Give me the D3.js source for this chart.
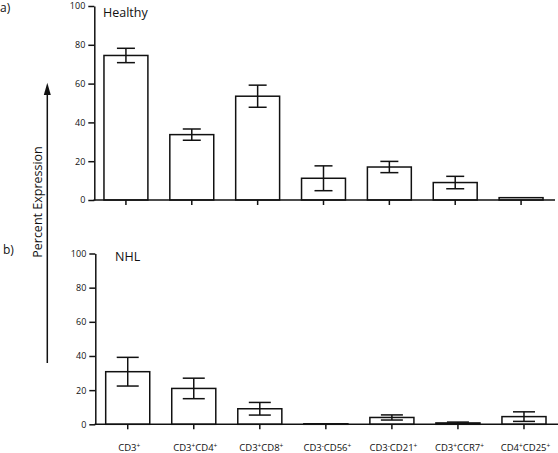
<!DOCTYPE html>
<html><head><meta charset="utf-8">
<script src="https://cdn.jsdelivr.net/npm/d3@7"></script>
<style>body{margin:0;background:#fff;} svg{display:block;font-family:"Open Sans",sans-serif;}</style>
</head><body><svg id="c" width="558" height="453"></svg>
<script>
const categories = ["CD3+","CD3+CD4+","CD3+CD8+","CD3-CD56+","CD3-CD21+","CD3+CCR7+","CD4+CD25+"];
const healthyMean = [74.5, 33.7, 53.5, 11.2, 17.0, 9.0, 1.2];
const healthyErr  = [3.7, 2.9, 5.7, 6.4, 2.9, 3.2, 0];
const nhlMean = [30.8, 21.0, 9.1, 0.3, 4.0, 0.8, 4.5];
const nhlErr  = [8.4, 6.0, 3.7, 0, 1.5, 0.5, 2.8];
const yTicks = [0, 20, 40, 60, 80, 100];
const panelTitles = ["Healthy", "NHL"];
const panelLetters = ["a)", "b)"];
const yLabel = "Percent Expression";

const ink = "#111";
const svg = d3.select("#c");

const panels = [
  {title: panelTitles[0], letter: panelLetters[0], mean: healthyMean, err: healthyErr,
   axisX: 94.3, x0: 93, x1: 554, xEnd: 555, yTop: 6, yBottom: 200, cap: 18,
   letterPos: [0, 12], titlePos: [103, 17], labels: false},
  {title: panelTitles[1], letter: panelLetters[1], mean: nhlMean, err: nhlErr,
   axisX: 95.3, x0: 94.7, x1: 557, xEnd: 558, yTop: 253.5, yBottom: 424.3, cap: 22,
   letterPos: [3, 254], titlePos: [115, 261], labels: true}
];

panels.forEach(p => {
  const g = svg.append("g");
  const x = d3.scaleBand().domain(categories).range([p.x0, p.x1]).paddingInner(0.333).paddingOuter(0.1665);
  const y = d3.scaleLinear().domain([0, 100]).range([p.yBottom, p.yTop]);

  // bars
  g.selectAll("rect.bar").data(categories).join("rect")
    .attr("x", d => x(d))
    .attr("width", x.bandwidth())
    .attr("y", (d, i) => y(p.mean[i]))
    .attr("height", (d, i) => y(0) - y(p.mean[i]))
    .attr("fill", "#fff").attr("stroke", ink).attr("stroke-width", 1.5);

  // error bars
  const eg = g.selectAll("g.err").data(categories).join("g")
    .filter((d, i) => p.err[i] > 0);
  eg.each(function(d) {
    const i = categories.indexOf(d);
    const cx = x(d) + x.bandwidth() / 2;
    const lo = y(p.mean[i] - p.err[i]), hi = y(p.mean[i] + p.err[i]);
    const s = d3.select(this);
    s.append("line").attr("x1", cx).attr("x2", cx).attr("y1", lo).attr("y2", hi);
    s.append("line").attr("x1", cx - p.cap/2).attr("x2", cx + p.cap/2).attr("y1", hi).attr("y2", hi);
    s.append("line").attr("x1", cx - p.cap/2).attr("x2", cx + p.cap/2).attr("y1", lo).attr("y2", lo);
    s.selectAll("line").attr("stroke", ink).attr("stroke-width", 1.5);
  });

  // y axis
  const ya = g.append("g").attr("transform", `translate(${p.axisX},0)`)
    .call(d3.axisLeft(y).tickValues(yTicks).tickSize(6).tickSizeOuter(0).tickPadding(3));
  ya.select(".domain").attr("stroke", ink).attr("stroke-width", 1.5);
  ya.selectAll(".tick line").attr("stroke", ink).attr("stroke-width", 1.5);
  ya.selectAll(".tick text").attr("font-size", 9).attr("fill", ink).attr("font-family", "Open Sans");

  // x axis line
  g.append("line").attr("x1", p.axisX - 0.75).attr("x2", p.xEnd).attr("y1", p.yBottom).attr("y2", p.yBottom)
    .attr("stroke", ink).attr("stroke-width", 1.5);
  const xa = g.append("g").attr("transform", `translate(0,${p.yBottom})`)
    .call(d3.axisBottom(x).tickSize(5).tickFormat(""));
  xa.select(".domain").remove();
  xa.selectAll(".tick line").attr("stroke", ink).attr("stroke-width", 1.5);

  if (p.labels) {
    categories.forEach(c => {
      const t = g.append("text")
        .attr("x", x(c) + x.bandwidth() / 2 + 1.5).attr("y", 451)
        .attr("text-anchor", "middle").attr("fill", ink).attr("font-size", 9.5);
      const parts = c.split(/([+-])/).filter(s => s.length);
      let raised = false;
      parts.forEach(s => {
        const sign = s === "+" || s === "-";
        const ts = t.append("tspan").text(s);
        if (sign) { ts.attr("font-size", 6.5).attr("dy", raised ? 0 : -3); raised = true; }
        else { if (raised) ts.attr("dy", 3); raised = false; }
      });
    });
  }

  // letter + title
  svg.append("text").attr("x", p.letterPos[0]).attr("y", p.letterPos[1])
    .attr("font-size", 12).attr("fill", ink).text(p.letter);
  svg.append("text").attr("x", p.titlePos[0]).attr("y", p.titlePos[1])
    .attr("font-size", 12.5).attr("fill", ink).text(p.title);
});

// y label with arrow
svg.append("text").attr("transform", "translate(42,202) rotate(-90)")
  .attr("text-anchor", "middle").attr("font-size", 12.5).attr("fill", ink).text(yLabel);
svg.append("line").attr("x1", 47.3).attr("x2", 47.3).attr("y1", 363).attr("y2", 92)
  .attr("stroke", ink).attr("stroke-width", 1.5);
svg.append("path").attr("d", d3.line()([[47.3, 82.7], [43.8, 95], [50.8, 95]]) + "Z").attr("fill", ink);
</script></body></html>
